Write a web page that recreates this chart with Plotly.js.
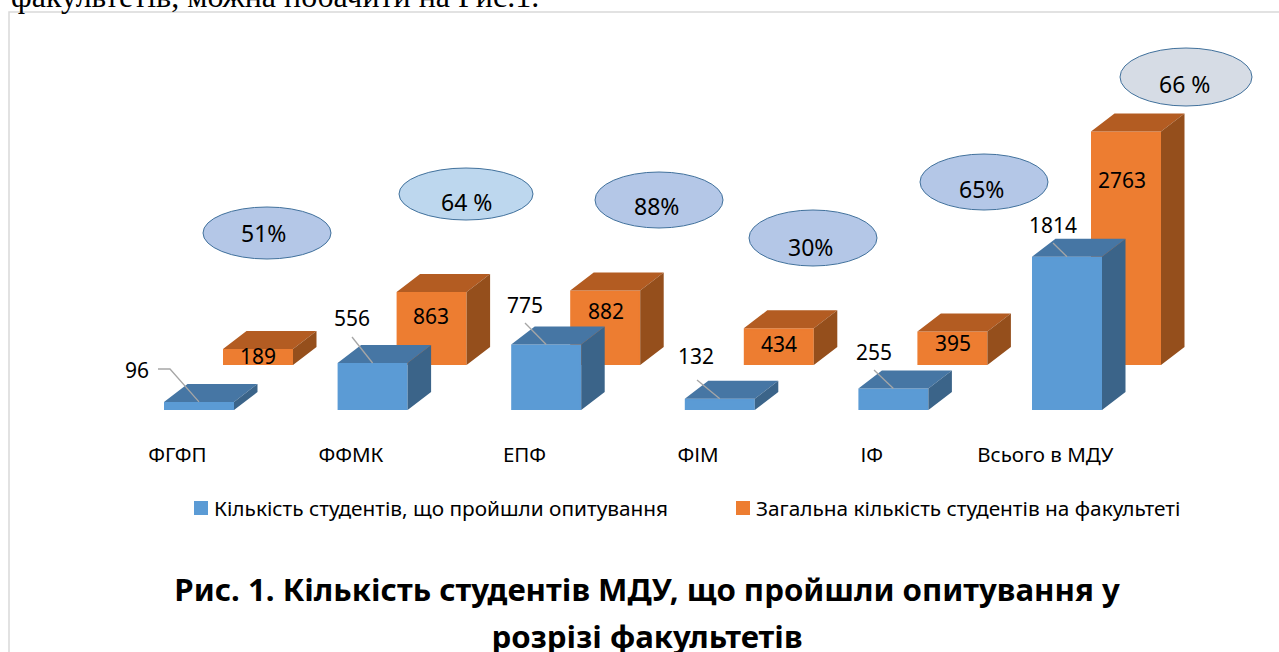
<!DOCTYPE html>
<html><head><meta charset="utf-8">
<script src="https://cdn.plot.ly/plotly-3.0.1.min.js"></script>
<style>html,body{margin:0;padding:0;background:#fff;overflow:hidden}#c{width:1279px;height:652px;overflow:hidden}</style>
</head><body><div id="c"></div>
<script>
// --- data ---
const categories = ['ФГФП','ФФМК','ЕПФ','ФІМ','ІФ','Всього в МДУ'];
const surveyed = [96,556,775,132,255,1814];
const total = [189,863,882,434,395,2763];
const shares = ['51%','64 %','88%','30%','65%','66 %'];
const seriesNames = ['Кількість студентів, що пройшли опитування','Загальна кількість студентів на факультеті'];
const titleLines = ['Рис. 1. Кількість студентів МДУ, що пройшли опитування у','розрізі факультетів'];
const captionText = 'факультетів, можна побачити на Рис.1.';

// --- geometry / style ---
const W=1279,H=652,plotH=440,baseY=410,cat0=199,catStep=173.6,scale=0.0845,extraR=80;
const FONT='"Noto Sans", sans-serif';
const ix=p=>(p-cat0)/catStep, vy=p=>(baseY-p)/scale;
const barW=ix(cat0+70), frontW=ix(cat0+68), depthX=ix(cat0+23.5), depthV=18/scale;
const rearDX=ix(cat0+59), rearBase=45/scale;
const idx=categories.map((_,i)=>i);

function faces(vals,dx,base,kind){
  const xs=[],ys=[];
  vals.forEach((v,i)=>{
    const l=i+dx-barW/2,r=i+dx+barW/2,t=base+v,b=base;
    const pts = kind==='top'
      ? [[l,t],[r,t],[r+depthX,t+depthV],[l+depthX,t+depthV]]
      : [[r,b],[r+depthX,b+depthV],[r+depthX,t+depthV],[r,t]];
    pts.concat([pts[0]]).forEach(p=>{xs.push(p[0]);ys.push(p[1]);});
    xs.push(null);ys.push(null);
  });
  return {x:xs,y:ys};
}
const face=(vals,dx,base,kind,color)=>Object.assign(faces(vals,dx,base,kind),{
  type:'scatter',mode:'lines',fill:'toself',fillcolor:color,line:{width:0,color:color},
  hoverinfo:'skip',showlegend:false});

const traces=[
 {type:'bar',name:seriesNames[1],x:idx.map(i=>i+rearDX),y:total.map(v=>v-2/scale),base:total.map(()=>rearBase+1/scale),width:frontW,
  marker:{color:'#ed7d31',line:{color:'#ed7d31',width:2}},hoverinfo:'skip'},
 {type:'bar',name:seriesNames[0],x:idx,y:surveyed.map(v=>v-2/scale),base:surveyed.map(()=>1/scale),width:frontW,
  marker:{color:'#5b9bd5',line:{color:'#5b9bd5',width:2}},hoverinfo:'skip'},
 face(total,rearDX,rearBase,'top','#b35c22'),
 face(total,rearDX,rearBase,'side','#954f1c'),
 face(surveyed,0,0,'top','#4676a4'),
 face(surveyed,0,0,'side','#3b6489')
];

// leader lines: from label (pixel offset) to the bar's top edge
const leaderStart=[[158,369,170,369],[352,337],[525,323],[697,380],[874,370],[1053,243]];
leaderStart.forEach((s,i)=>{
  const x=[],y=[];
  for(let k=0;k<s.length;k+=2){x.push(ix(s[k]));y.push(vy(s[k+1]));}
  x.push(i);y.push(surveyed[i]);
  traces.push({type:'scatter',mode:'lines',x,y,line:{color:'#a6a6a6',width:1.3},hoverinfo:'skip',showlegend:false});
});

const surveyedLabelPos=[[137,370],[352,318],[525,305],[696,356],[874,352],[1053,225]];
const totalLabelPos=[[258,356],[431,316],[606,311],[779,344],[953,343],[1122,180]];
const ellipses=[[267,233,64,26,'#b4c7e7'],[466,194,67,26,'#bdd7ee'],[659,200,64,28,'#b4c7e7'],
                [813,238,64,28,'#b4c7e7'],[984,182,64,28,'#b4c7e7'],[1186,77,66,29,'#d6dce5']];
const shareLabelPos=[[263,233],[466,202],[656,206],[810,247],[981,189],[1184,84]];

const ann=(t,p,size)=>({text:String(t),xref:'x',yref:'y',x:ix(p[0]),y:vy(p[1]),showarrow:false,
   xanchor:'center',yanchor:'middle',font:{family:FONT,size:size||21,color:'#000'}});
const annotations=[
  ...surveyed.map((v,i)=>ann(v,surveyedLabelPos[i])),
  ...total.map((v,i)=>ann(v,totalLabelPos[i])),
  ...shares.map((s,i)=>ann(s,shareLabelPos[i],23)),
  {text:captionText,xref:'paper',yref:'paper',x:9/W,y:1-16/plotH,xanchor:'left',yanchor:'bottom',showarrow:false,
   font:{family:'"Liberation Serif", serif',size:32,color:'#000'}}
];
const shapes=[
  {type:'rect',xref:'paper',yref:'paper',x0:9/W,x1:1300/W,y0:1-12/plotH,y1:1-700/plotH,
   line:{color:'#d9d9d9',width:1.5},fillcolor:'rgba(0,0,0,0)',layer:'below'},
  ...ellipses.map(e=>({type:'circle',xref:'paper',yref:'paper',x0:(e[0]-e[2])/W,x1:(e[0]+e[2])/W,
     y0:1-(e[1]+e[3])/plotH,y1:1-(e[1]-e[3])/plotH,fillcolor:e[4],line:{color:'#41719c',width:1}}))
];

const layout={
  width:W+extraR,height:H,margin:{l:0,r:extraR,t:0,b:H-plotH,pad:0},
  paper_bgcolor:'#fff',plot_bgcolor:'rgba(0,0,0,0)',barmode:'overlay',showlegend:true,
  xaxis:{range:[ix(0),ix(W)],tickvals:idx.map(i=>i-0.125),ticktext:categories,showgrid:false,zeroline:false,
         showline:false,ticks:'',tickfont:{family:FONT,size:20.5,color:'#000'},fixedrange:true},
  yaxis:{range:[vy(plotH),vy(0)],visible:false,fixedrange:true},
  legend:{orientation:'h',x:174/W,y:1-488/plotH,xanchor:'left',yanchor:'top',traceorder:'reversed',
          font:{family:FONT,size:20.8,color:'#000'},entrywidth:497,entrywidthmode:'pixels',bgcolor:'rgba(0,0,0,0)'},
  title:{text:titleLines.map(t=>'<span style="font-size:31.2px"><b>'+t+'</b></span>').join('<br>'),
         xref:'paper',x:647/W,xanchor:'center',y:1-601/H,yanchor:'middle',
         font:{family:FONT,size:36,color:'#000'}},
  shapes,annotations,
  font:{family:FONT}
};
Plotly.newPlot('c',traces,layout,{displayModeBar:false,responsive:false}).then(()=>{
  // swatches sit closer to their text, as in the reference
  document.querySelectorAll('#c .legendpoints').forEach(g=>g.setAttribute('transform','translate(7,0)'));
});
</script></body></html>
